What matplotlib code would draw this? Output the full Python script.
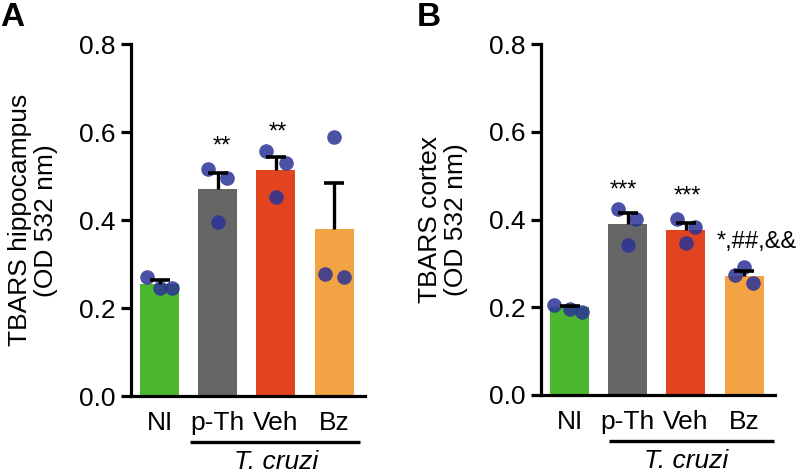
import matplotlib
matplotlib.use("Agg")
import matplotlib.pyplot as plt
import numpy as np

plt.rcParams['font.family'] = ['Liberation Sans', 'DejaVu Sans']

categories = ["NI", "p-Th", "Veh", "Bz"]
colors = ["#4cb830", "#666666", "#e24420", "#f2a444"]
dot_color = "#2b3396"

# Panel A: hippocampus
a_means = [0.255, 0.470, 0.514, 0.379]
a_sem = [0.009, 0.038, 0.030, 0.106]
a_points = [[0.271, 0.246, 0.246],
            [0.516, 0.497, 0.395],
            [0.557, 0.531, 0.453],
            [0.590, 0.277, 0.270]]
a_offsets = [[-0.22, 0.0, 0.22],
             [-0.17, 0.16, 0.0],
             [-0.17, 0.17, 0.0],
             [0.0, -0.16, 0.17]]
a_sig = ["", "**", "**", ""]
a_sig_pos = [(0, 0), (1.07, 0.567), (2.03, 0.60), (0, 0)]

# Panel B: cortex
b_means = [0.200, 0.389, 0.377, 0.272]
b_sem = [0.004, 0.026, 0.016, 0.012]
b_points = [[0.206, 0.197, 0.189],
            [0.425, 0.401, 0.343],
            [0.402, 0.383, 0.347],
            [0.293, 0.273, 0.256]]
b_offsets = [[-0.27, 0.0, 0.22],
             [-0.16, 0.15, 0.0],
             [-0.16, 0.16, 0.0],
             [0.0, -0.16, 0.15]]
b_sig = ["", "***", "***", "*,##,&&"]
b_sig_pos = [(0, 0), (0.93, 0.467), (2.03, 0.452), (3.22, 0.349)]

yticks = [0.0, 0.2, 0.4, 0.6, 0.8]
group_label = "T. cruzi"

W, H = 800, 474
fig = plt.figure(figsize=(W / 100, H / 100), dpi=100)

def make_ax(left_px, right_px, top_px, bottom_px):
    return fig.add_axes([left_px / W, 1 - bottom_px / H,
                         (right_px - left_px) / W, (bottom_px - top_px) / H])

axA = make_ax(131, 365, 44.3, 396)
axB = make_ax(541, 775, 44.3, 395)

def draw(ax, means, sem, points, offsets, sig, sig_pos, ylabel, line_x):
    x = np.arange(len(categories))
    ax.bar(x, means, width=0.67, color=colors, zorder=1)
    for i in range(len(categories)):
        px = [x[i] + o for o in offsets[i]]
        ax.plot(px, points[i], 'o', color=dot_color, markersize=10.5,
                alpha=0.85, markeredgewidth=0, zorder=2)
    _, caps, _ = ax.errorbar(x, means, yerr=[np.zeros(len(sem)), sem], fmt='none',
                             ecolor='black', elinewidth=2.4, capsize=7,
                             capthick=2.6, zorder=3)
    caps[0].set_visible(False)
    for i, s in enumerate(sig):
        if s:
            fs = 17 if len(s) > 3 else 17
            ax.text(sig_pos[i][0], sig_pos[i][1], s, ha='center', va='center',
                    fontsize=fs, zorder=4)
    ax.set_xlim(-0.49, 3.53)
    ax.set_ylim(0, 0.8)
    ax.set_yticks(yticks)
    ax.set_yticklabels([f"{v:.1f}" for v in yticks])
    ax.set_xticks(x)
    ax.set_xticklabels(categories)
    for s in ['top', 'right']:
        ax.spines[s].set_visible(False)
    for s in ['left', 'bottom']:
        ax.spines[s].set_linewidth(2.3)
    ax.tick_params(axis='y', length=7, width=2.3, labelsize=19, pad=4)
    ax.tick_params(axis='x', length=0, labelsize=19, pad=11)
    ax.set_ylabel(ylabel, fontsize=19, linespacing=1.15)
    ax.yaxis.set_label_coords(-0.31, 0.5)
    trans = ax.get_xaxis_transform()
    ax.plot(line_x, [-0.132, -0.132], color='black', lw=2.4, transform=trans,
            clip_on=False, solid_capstyle='butt')
    ax.text(2.0, -0.187, group_label, style='italic', fontsize=19, ha='center',
            va='center', transform=trans)

draw(axA, a_means, a_sem, a_points, a_offsets, a_sig, a_sig_pos,
     "TBARS hippocampus\n(OD 532 nm)", [0.52, 3.44])
draw(axB, b_means, b_sem, b_points, b_offsets, b_sig, b_sig_pos,
     "TBARS cortex\n(OD 532 nm)", [0.68, 3.52])

fig.text(0 / W, 1 - 2 / H, "A", fontsize=24, fontweight='bold', ha='left', va='top')
fig.text(417 / W, 1 - 2 / H, "B", fontsize=24, fontweight='bold', ha='left', va='top')

fig.savefig("out.png", dpi=100)
